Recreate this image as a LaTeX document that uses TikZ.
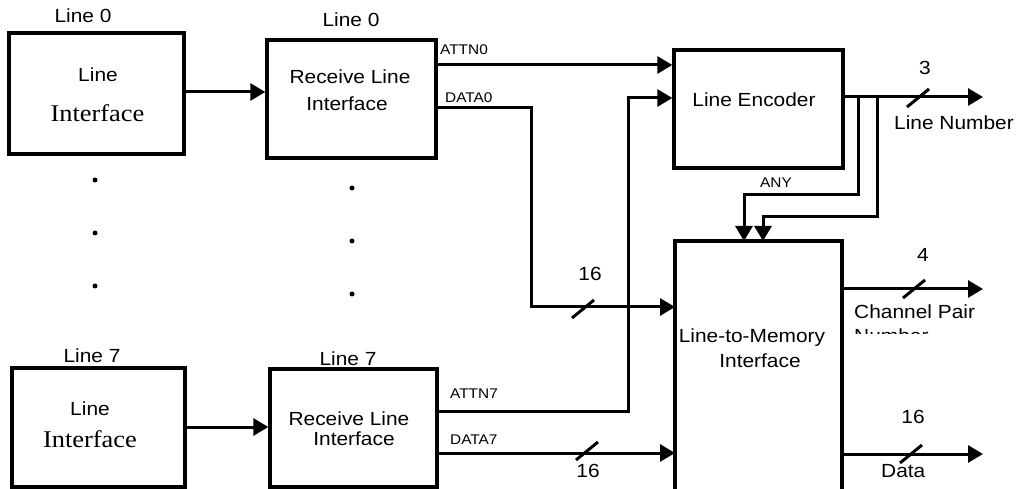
\documentclass[tikz,border=0pt]{standalone}
\usepackage{fontspec}
\setmainfont[FakeStretch=1.1]{Liberation Sans}
\newfontfamily\serifface[FakeStretch=1.1]{Liberation Serif}
\usetikzlibrary{arrows.meta}
\tikzset{
  blk/.style={draw, line width=3.3pt, inner sep=0pt},
  wire/.style={line width=3pt, -{Triangle[length=15pt,width=17pt]}},
  plain/.style={line width=3pt},
  slash/.style={line width=3pt},
  big/.style={font=\fontsize{19}{22}\selectfont, inner sep=0pt, anchor=base},
  small/.style={font=\fontsize{14}{17}\selectfont, inner sep=0pt, anchor=base west},
  serif/.style={font=\serifface\fontsize{24}{28}\selectfont, inner sep=0pt, anchor=base},
  dotm/.style={circle, fill, inner sep=0pt, minimum size=5pt}
}
\begin{document}
\begin{tikzpicture}[x=1pt,y=-1pt]
\useasboundingbox (0,0) rectangle (1018,489);
\clip (0,0) rectangle (1018,489);
% boxes
\node[blk, minimum width=175pt, minimum height=121pt] (li0) at (96.5,93.5) {};
\node[blk, minimum width=169pt, minimum height=118pt] (rl0) at (351.5,99) {};
\node[blk, minimum width=169pt, minimum height=118pt] (enc) at (758.5,109) {};
\node[blk, minimum width=173pt, minimum height=119pt] (li7) at (98.5,427.5) {};
\node[blk, minimum width=167pt, minimum height=118pt] (rl7) at (353.5,428) {};
\draw[line width=3.3pt] (675,520) -- (675,241) -- (842,241) -- (842,520);
\coordinate (memL0) at (675,307);
\coordinate (memL7) at (675,453);
\coordinate (memT1) at (744,241);
\coordinate (memT2) at (763,241);
\coordinate (memR1) at (842,289);
\coordinate (memR2) at (842,454);
\node[big] (memt1) at (752,342) {Line-to-Memory};
\node[big] (memt2) at (760,367) {Interface};
% texts
\node[big] (l0a) at (83,23) {Line 0};
\node[big] (l0b) at (351,27) {Line 0};
\node[big] (l7a) at (92,362) {Line 7};
\node[big] (l7b) at (348,365) {Line 7};
\node[big] (li0t) at (98,82) {Line};
\node[serif] (li0s) at (97.5,122) {Interface};
\node[big] (li7t) at (90,415) {Line};
\node[serif] (li7s) at (90,447) {Interface};
\node[big] (rl0t) at (350,84) {Receive Line};
\node[big] (rl0s) at (347,111) {Interface};
\node[big] (rl7t) at (349,425) {Receive Line};
\node[big] (rl7s) at (354,445) {Interface};
\node[big] (enct) at (754,107) {Line Encoder};
\node[small] (attn0) at (440,55) {ATTN0};
\node[small] (data0) at (445,103) {DATA0};
\node[small] (attn7) at (450,398) {ATTN7};
\node[small] (data7) at (450,444) {DATA7};
\node[small, anchor=base] (any) at (776,188) {ANY};
\node[big] (n3) at (925,75) {3};
\node[big] (lnum) at (954,130) {Line Number};
\node[big] (n16a) at (590,281) {16};
\node[big] (n16b) at (588,477) {16};
\node[big] (n4) at (923,262) {4};
\node[big] (n16c) at (913,423) {16};
\node[big, anchor=base west] (cpair) at (854,318) {Channel Pair};
\begin{scope}
\clip (840,300) rectangle (1018,333);
\node[big, anchor=base west] (cnum) at (854,342) {Number};
\end{scope}
\node[big, anchor=base west] (dat) at (881,477) {Data};
% dots
\foreach \y in {180,233,286} \node[dotm] at (95,\y) {};
\foreach \y in {188,241,294} \node[dotm] at (352,\y) {};
% connectors
\draw[wire] (li0.east |- 0,92) -- (rl0.west |- 0,92);
\draw[wire] (li7.east |- 0,427) -- (rl7.west |- 0,427);
\draw[wire] (rl0.east |- 0,65) -- (enc.west |- 0,65);
\coordinate (d0a) at (531,108);
\coordinate (d0b) at (531,307);
\draw[wire] (rl0.east |- d0a) -- (d0a) -- (d0b) -- (memL0);
\coordinate (a7a) at (628,411);
\coordinate (a7b) at (628,98);
\draw[wire] (rl7.east |- a7a) -- (a7a) -- (a7b) -- (enc.west |- a7b);
\draw[wire] (rl7.east |- memL7) -- (memL7);
\coordinate (lnEnd) at (983,97);
\draw[wire] (enc.east |- lnEnd) -- (lnEnd);
\coordinate (b1a) at (858,97);
\coordinate (b1b) at (858,195);
\coordinate (b1c) at (744,195);
\coordinate (b2a) at (877,97);
\coordinate (b2b) at (877,217);
\coordinate (b2c) at (763,217);
\draw[wire] (b1a) -- (b1b) -- (b1c) -- (memT1);
\draw[wire] (b2a) -- (b2b) -- (b2c) -- (memT2);
\coordinate (cpEnd) at (983,289);
\coordinate (dtEnd) at (983,454);
\draw[wire] (memR1) -- (cpEnd);
\draw[wire] (memR2) -- (dtEnd);
% slashes
\foreach \c in {(918,98),(583,309),(587,451),(914,289),(911,454)}
  \draw[slash] \c ++(-11,9) -- ++(22,-18);
\end{tikzpicture}
\end{document}
